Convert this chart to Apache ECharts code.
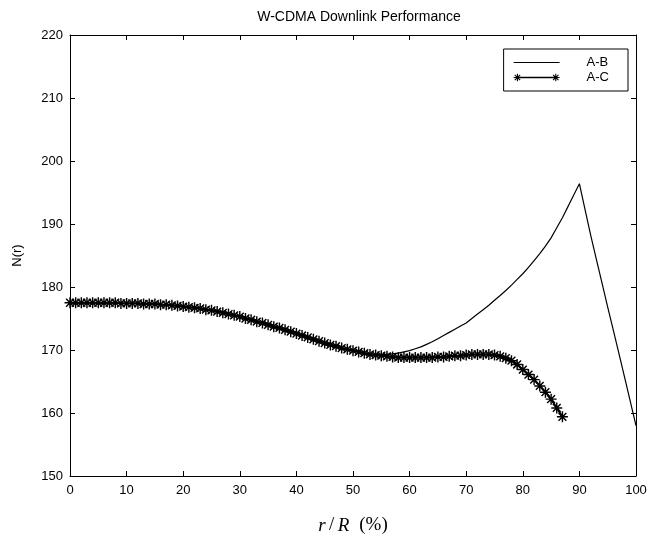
<!DOCTYPE html>
<html>
<head>
<meta charset="utf-8">
<script src="https://cdn.jsdelivr.net/npm/echarts@6/dist/echarts.min.js"></script>
<style>html,body{margin:0;padding:0;background:#fff;}#c{width:663px;height:540px;}</style>
</head>
<body>
<div id="c"></div>
<script>
// ---- data ----
const titleText = 'W-CDMA Downlink Performance';
const seriesNames = ['A-B', 'A-C'];
const xTicks = [0, 10, 20, 30, 40, 50, 60, 70, 80, 90, 100];
const yTicks = [150, 160, 170, 180, 190, 200, 210, 220];
// r/R (%) sample positions, 0..100 step 1
const rA_B = [0,1,2,3,4,5,6,7,8,9,10,11,12,13,14,15,16,17,18,19,20,21,22,23,24,25,26,27,28,29,30,31,32,33,34,35,36,37,38,39,40,41,42,43,44,45,46,47,48,49,50,51,52,53,54,55,56,57,58,59,60,61,62,63,64,65,66,67,68,69,70,71,72,73,74,75,76,77,78,79,80,81,82,83,84,85,86,87,88,89,90,91,92,93,94,95,96,97,98,99,100];
const nA_B = [
 177.5,177.5,177.5,177.5,177.5,177.5,177.5,177.5,177.5,177.4,177.4,
 177.4,177.4,177.3,177.3,177.3,177.2,177.2,177.1,177.0,176.9,
 176.8,176.7,176.6,176.4,176.3,176.1,175.9,175.7,175.5,175.3,
 175.0,174.8,174.5,174.3,174.0,173.7,173.5,173.2,172.9,172.6,
 172.3,172.0,171.7,171.4,171.1,170.8,170.6,170.3,170.1,169.9,
 169.7,169.5,169.4,169.3,169.3,169.3,169.4,169.5,169.7,169.9,
 170.2,170.5,170.9,171.3,171.8,172.3,172.8,173.3,173.8,174.3,
 175.0,175.7,176.4,177.1,177.9,178.65,179.45,180.3,181.2,182.1,
 183.1,184.2,185.3,186.5,187.8,189.4,191.0,192.8,194.6,196.4,
 192.3,188.2,184.4,180.6,176.8,173.1,169.4,165.6,161.8,158.0
];
const rA_C = [0,1,2,3,4,5,6,7,8,9,10,11,12,13,14,15,16,17,18,19,20,21,22,23,24,25,26,27,28,29,30,31,32,33,34,35,36,37,38,39,40,41,42,43,44,45,46,47,48,49,50,51,52,53,54,55,56,57,58,59,60,61,62,63,64,65,66,67,68,69,70,71,72,73,74,75,76,77,78,79,80,81,82,83,84,85,86,87];
const nA_C = [
 177.5,177.5,177.5,177.5,177.5,177.5,177.5,177.5,177.5,177.4,177.4,
 177.4,177.4,177.3,177.3,177.3,177.2,177.2,177.1,177.0,176.9,
 176.8,176.7,176.6,176.4,176.3,176.1,175.9,175.7,175.5,175.3,
 175.0,174.8,174.5,174.3,174.0,173.7,173.5,173.2,172.9,172.6,
 172.3,172.0,171.7,171.4,171.1,170.8,170.6,170.3,170.1,169.9,
 169.7,169.5,169.3,169.2,169.1,169.0,168.9,168.8,168.8,168.8,
 168.8,168.8,168.8,168.8,168.9,168.9,169.0,169.1,169.1,169.2,
 169.3,169.3,169.3,169.3,169.2,169.0,168.7,168.3,167.7,166.9,
 166.1,165.3,164.3,163.3,162.2,160.8,159.4
];

// ---- helpers (styling only) ----
function f(v){ return (Math.round(v*1000)/1000).toString(); }
function starPath(cx, cy, r, w){
  // asterisk made of 4 thin bars, all wound the same way
  const d = r*0.7071, h = w/2, o = h*0.7071;
  let p = '';
  p += 'M'+f(cx-h)+','+f(cy-r)+' L'+f(cx+h)+','+f(cy-r)+' L'+f(cx+h)+','+f(cy+r)+' L'+f(cx-h)+','+f(cy+r)+' Z ';
  p += 'M'+f(cx-r)+','+f(cy-h)+' L'+f(cx+r)+','+f(cy-h)+' L'+f(cx+r)+','+f(cy+h)+' L'+f(cx-r)+','+f(cy+h)+' Z ';
  p += 'M'+f(cx-d+o)+','+f(cy-d-o)+' L'+f(cx+d+o)+','+f(cy+d-o)+' L'+f(cx+d-o)+','+f(cy+d+o)+' L'+f(cx-d-o)+','+f(cy-d+o)+' Z ';
  p += 'M'+f(cx-d-o)+','+f(cy+d-o)+' L'+f(cx+d-o)+','+f(cy-d-o)+' L'+f(cx+d+o)+','+f(cy-d+o)+' L'+f(cx-d+o)+','+f(cy+d+o)+' Z ';
  return p;
}
const markerPath = 'path://' + starPath(0, 0, 1, 0.26);
const legW = 46, legH = 10;
function dot(x, y){ return 'M'+x+','+y+' L'+(x+0.01)+','+y+' L'+(x+0.01)+','+(y+0.01)+' Z '; }
const legendIconAC = 'path://' + dot(0,0) + dot(legW-0.01,legH-0.01) +
  'M3,4.2 L43,4.2 L43,5.8 L3,5.8 Z ' + starPath(3, 5, 4, 1.1) + starPath(43, 5, 4, 1.1);
const legendIconAB = 'path://' + dot(0,0) + dot(legW-0.01,legH-0.01) +
  'M0,4.55 L46,4.55 L46,5.45 L0,5.45 Z ';

const FONT = 'Liberation Sans';
const chart = echarts.init(document.getElementById('c'), null, {renderer: 'canvas'});
const axisCommon = {
  type: 'value',
  axisLine: {show: true, onZero: false, lineStyle: {color: '#000', width: 1}},
  axisTick: {show: true, inside: true, length: 5, lineStyle: {color: '#000', width: 1}},
  splitLine: {show: false}
};
chart.setOption({
  animation: false,
  backgroundColor: '#fff',
  title: {
    text: titleText, left: 354, top: 5, textAlign: 'center',
    textStyle: {fontFamily: FONT, fontSize: 14, fontWeight: 'normal', color: '#000'}
  },
  legend: {
    right: 35, top: 49, orient: 'vertical',
    backgroundColor: '#fff', borderColor: '#000', borderWidth: 1,
    padding: [7, 19, 7, 10], itemGap: 2,
    itemWidth: legW, itemHeight: legH,
    textStyle: {fontFamily: FONT, fontSize: 13, color: '#000', padding: [0, 0, 0, 22]},
    data: [
      {name: seriesNames[0], icon: legendIconAB},
      {name: seriesNames[1], icon: legendIconAC}
    ]
  },
  grid: {left: 70, right: 27, top: 35, bottom: 58, containLabel: false},
  xAxis: [
    Object.assign({}, axisCommon, {
      min: xTicks[0], max: xTicks[xTicks.length-1], interval: 10, position: 'bottom',
      axisLabel: {fontFamily: FONT, fontSize: 13, color: '#000', margin: 8},
      name: '{i|r} {n|/} {i|R}   {n|(%)}', nameLocation: 'middle', nameGap: 40,
      nameTextStyle: {
        rich: {
          i: {fontFamily: 'Liberation Serif', fontStyle: 'italic', fontSize: 19, color: '#000'},
          n: {fontFamily: 'Liberation Serif', fontSize: 19, color: '#000'}
        }
      }
    }),
    Object.assign({}, axisCommon, {
      min: xTicks[0], max: xTicks[xTicks.length-1], interval: 10, position: 'top',
      axisLabel: {show: false}
    })
  ],
  yAxis: [
    Object.assign({}, axisCommon, {
      min: yTicks[0], max: yTicks[yTicks.length-1], interval: 10, position: 'left',
      axisLabel: {fontFamily: FONT, fontSize: 13, color: '#000', margin: 7},
      name: 'N(r)', nameLocation: 'middle', nameGap: 46, nameRotate: 90,
      nameTextStyle: {fontFamily: FONT, fontSize: 13, color: '#000'}
    }),
    Object.assign({}, axisCommon, {
      min: yTicks[0], max: yTicks[yTicks.length-1], interval: 10, position: 'right',
      axisLabel: {show: false}
    })
  ],
  series: [
    {
      name: seriesNames[0], type: 'line', xAxisIndex: 0, yAxisIndex: 0,
      data: rA_B.map((x, i) => [x, nA_B[i]]),
      symbol: 'none', color: '#000',
      lineStyle: {color: '#000', width: 1.2}, z: 2
    },
    {
      name: seriesNames[1], type: 'line', xAxisIndex: 0, yAxisIndex: 0,
      data: rA_C.map((x, i) => [x, nA_C[i]]),
      symbol: markerPath, symbolSize: 11, showAllSymbol: true, color: '#000',
      itemStyle: {color: '#000'},
      lineStyle: {color: '#000', width: 2}, z: 3
    }
  ]
});
</script>
</body>
</html>
